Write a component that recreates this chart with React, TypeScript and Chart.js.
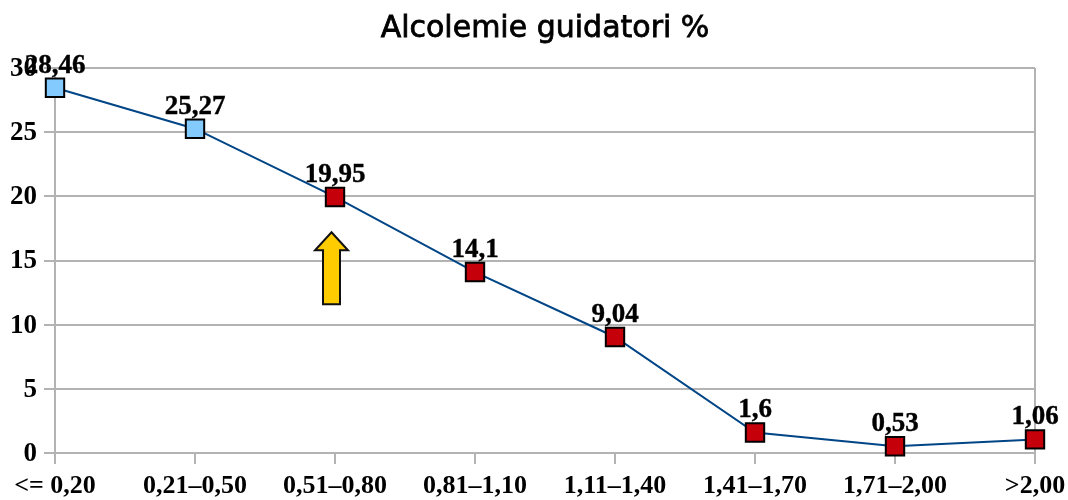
import React, { useEffect, useRef } from "react";
import { Chart, registerables } from "chart.js";

Chart.register(...registerables);

const categories = ["<= 0,20", "0,21–0,50", "0,51–0,80", "0,81–1,10", "1,11–1,40", "1,41–1,70", "1,71–2,00", ">2,00"];
const values = [28.46, 25.27, 19.95, 14.1, 9.04, 1.6, 0.53, 1.06];
const valueLabels = ["28,46", "25,27", "19,95", "14,1", "9,04", "1,6", "0,53", "1,06"];
const pointColors = ["#83caff", "#83caff", "#c5000b", "#c5000b", "#c5000b", "#c5000b", "#c5000b", "#c5000b"];
const arrowAt = { index: 2, base: 11.6, tip: 17.2 };
const TITLE = "Alcolemie guidatori %";
const SERIF = '"Liberation Serif"';
const SANS = '"DejaVu Sans"';
const GRID = "#b3b3b3";
const TITLE_SIZE = 30;
const TITLE_PAD_TOP = 11;

const overlay = {
  id: "overlay",
  afterDatasetsDraw(chart: any) {
    const { ctx, scales } = chart;
    const x = scales.x, y = scales.y;
    const meta = chart.getDatasetMeta(0);
    ctx.save();
    ctx.font = `bold 27px ${SERIF}`;
    ctx.fillStyle = "#000";
    ctx.strokeStyle = "#000";
    ctx.lineWidth = 0.4;
    ctx.textAlign = "center";
    ctx.textBaseline = "alphabetic";
    meta.data.forEach((p: any, i: number) => {
      ctx.fillText(valueLabels[i], p.x, p.y - 15);
      ctx.strokeText(valueLabels[i], p.x, p.y - 15);
    });
    // heavier title stroke, on top of the native title
    const tb = chart.titleBlock;
    ctx.font = `${TITLE_SIZE}px ${SANS}`;
    ctx.textBaseline = "middle";
    ctx.lineWidth = 0.8;
    ctx.strokeText(TITLE, (tb.left + tb.right) / 2, tb.top + TITLE_PAD_TOP + (TITLE_SIZE * 1.2) / 2);
    // arrow
    const cx = x.getPixelForValue(arrowAt.index) - 3.5;
    const top = y.getPixelForValue(arrowAt.tip);
    const bot = y.getPixelForValue(arrowAt.base);
    ctx.beginPath();
    ctx.moveTo(cx, top);
    ctx.lineTo(cx + 16.5, top + 18);
    ctx.lineTo(cx + 8.5, top + 18);
    ctx.lineTo(cx + 8.5, bot);
    ctx.lineTo(cx - 8.5, bot);
    ctx.lineTo(cx - 8.5, top + 18);
    ctx.lineTo(cx - 16.5, top + 18);
    ctx.closePath();
    ctx.fillStyle = "#ffcc00";
    ctx.strokeStyle = "#111";
    ctx.lineWidth = 2;
    ctx.fill();
    ctx.stroke();
    ctx.restore();
  },
};

export default function App() {
  const ref = useRef<HTMLCanvasElement>(null);
  useEffect(() => {
    document.body.style.margin = "0";
    const chart = new Chart(ref.current!, {
      type: "line",
      data: {
        labels: categories,
        datasets: [{
          data: values,
          borderColor: "#004586",
          borderWidth: 2,
          tension: 0,
          pointStyle: "rect",
          pointRadius: 13,
          pointBorderWidth: 2,
          pointBorderColor: "#000",
          pointBackgroundColor: pointColors,
          clip: false,
        }],
      },
      options: {
        animation: false,
        responsive: false,
        layout: { padding: { left: 0, right: 33, top: 0, bottom: 0 } },
        plugins: {
          legend: { display: false },
          tooltip: { enabled: false },
          title: {
            display: true,
            fullSize: false,
            text: TITLE,
            color: "#000",
            font: { family: SANS, size: TITLE_SIZE, weight: "normal" },
            padding: { top: TITLE_PAD_TOP, bottom: 21 },
          },
        },
        scales: {
          x: {
            offset: false,
            grid: {
              color: (c: any) => (c.index === categories.length - 1 || c.index === 0 ? GRID : "rgba(0,0,0,0)"),
              tickColor: GRID,
              lineWidth: 2,
              tickLength: 11,
            },
            border: { color: GRID, width: 2 },
            ticks: { color: "#000", font: { family: SERIF, size: 26, weight: "bold" }, maxRotation: 0, autoSkip: false, padding: 7 },
            afterFit(s: any) { s.height = 47; s.paddingLeft = 0; s.paddingRight = 0; },
          },
          y: {
            min: 0,
            max: 30,
            grid: { color: GRID, lineWidth: 2, tickLength: 11 },
            border: { color: GRID, width: 2 },
            ticks: { stepSize: 5, color: "#000", font: { family: SERIF, size: 27, weight: "bold" }, padding: 7, labelOffset: 1 },
            afterFit(s: any) { s.width = 55; s.paddingTop = 0; s.paddingBottom = 0; },
          },
        },
      },
      plugins: [overlay],
    } as any);
    return () => chart.destroy();
  }, []);
  return <canvas ref={ref} width={1068} height={500} style={{ display: "block" }} />;
}
